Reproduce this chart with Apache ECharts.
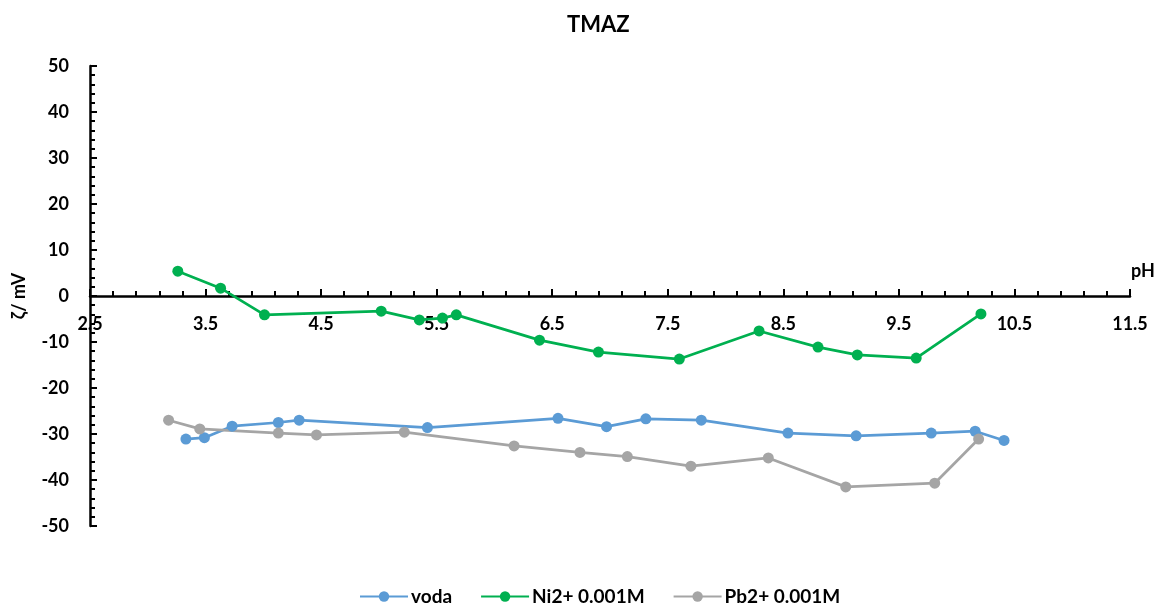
<!DOCTYPE html>
<html>
<head>
<meta charset="utf-8">
<script src="https://cdn.jsdelivr.net/npm/echarts@6/dist/echarts.min.js"></script>
<style>html,body{margin:0;padding:0;background:#fff;}#c{width:1165px;height:605px;}</style>
</head>
<body>
<div id="c"></div>
<script>
// x-axis tick labels (pH)
var xTicks = [2.5, 3.5, 4.5, 5.5, 6.5, 7.5, 8.5, 9.5, 10.5, 11.5];
var yMin = -50, yMax = 50, yStep = 10;
var seriesNames = ['voda', 'Ni2+ 0.001M', 'Pb2+ 0.001M'];

var vodaPH   = [3.33, 3.49, 3.73, 4.13, 4.31, 5.42, 6.55, 6.97, 7.31, 7.79, 8.54, 9.13, 9.78, 10.16, 10.41];
var vodaZeta = [-31.1, -30.8, -28.3, -27.5, -27.0, -28.6, -26.6, -28.4, -26.7, -27.0, -29.8, -30.4, -29.8, -29.4, -31.4];

var niPH   = [3.26, 3.63, 4.01, 5.02, 5.35, 5.55, 5.67, 6.39, 6.90, 7.60, 8.29, 8.80, 9.14, 9.65, 10.21];
var niZeta = [5.4, 1.7, -4.1, -3.3, -5.2, -4.8, -4.1, -9.6, -12.2, -13.7, -7.6, -11.1, -12.8, -13.5, -3.9];

var pbPH   = [3.18, 3.45, 4.13, 4.46, 5.22, 6.17, 6.74, 7.15, 7.70, 8.37, 9.04, 9.81, 10.19];
var pbZeta = [-27.0, -28.9, -29.8, -30.2, -29.6, -32.6, -34.0, -34.9, -37.0, -35.2, -41.5, -40.7, -31.1];

var xOffset = xTicks[0]; // axis runs 0..9 internally so ticks start at 2.5
function pairs(xs, ys) { return xs.map(function (x, i) { return [x - xOffset, ys[i]]; }); }

var colors = ['#5B9BD5', '#00B050', '#A5A5A5'];
var font = 'Lato, "Open Sans", sans-serif';

var W = 1165, H = 605;
var gridTop = 66, gridBottom = 79;
var plotH = H - gridTop - gridBottom;
// x axis crosses the y axis at 0: move it up from the bottom of the grid
var zeroOffset = -plotH * (0 - yMin) / (yMax - yMin);

function mk(name, xs, ys, color) {
  return {
    name: name, type: 'line', data: pairs(xs, ys),
    symbol: 'circle', symbolSize: 11, showSymbol: true,
    lineStyle: { color: color, width: 2.75 },
    itemStyle: { color: color },
    z: 3
  };
}

var chart = echarts.init(document.getElementById('c'));
chart.setOption({
  animation: false,
  textStyle: { fontFamily: font },
  title: {
    text: 'TMAZ', left: 562, top: 9,
    textStyle: { fontSize: 22, fontWeight: 'bold', color: '#000', fontFamily: font }
  },
  legend: {
    top: 582, left: 354, itemGap: 28, itemWidth: 48, itemHeight: 13,
    data: seriesNames,
    textStyle: { fontSize: 19, fontWeight: 'bold', color: '#000', fontFamily: font, padding: [0, 0, 0, -2] }
  },
  grid: { left: 90, right: 35, top: gridTop, bottom: gridBottom, containLabel: false },
  xAxis: {
    type: 'value', min: 0, max: xTicks[xTicks.length - 1] - xOffset, interval: 1,
    position: 'bottom', offset: zeroOffset,
    name: 'pH', nameLocation: 'end', nameGap: 1,
    nameTextStyle: { fontSize: 18, fontWeight: 'bold', color: '#000', verticalAlign: 'bottom', padding: [0, 0, 16, 0], fontFamily: font },
    axisLine: { onZero: false, lineStyle: { color: '#000', width: 2.5 } },
    axisTick: { show: true, inside: true, length: 7, lineStyle: { color: '#000', width: 2 } },
    minorTick: { show: true, splitNumber: 5, length: 5, lineStyle: { color: '#000', width: 2 } },
    axisLabel: {
      margin: 19, fontSize: 18, fontWeight: 'bold', color: '#000', fontFamily: font,
      formatter: function (v) { return String(Math.round((v + xOffset) * 10) / 10); }
    },
    splitLine: { show: false }
  },
  yAxis: {
    type: 'value', min: yMin, max: yMax, interval: yStep,
    name: 'ζ/ mV', nameLocation: 'middle', nameGap: 62, nameRotate: 90,
    nameTextStyle: { fontSize: 18, fontWeight: 'bold', color: '#000', fontFamily: font },
    axisLine: { show: true, onZero: false, lineStyle: { color: '#000', width: 2.5 } },
    axisTick: { show: true, inside: true, length: 7, lineStyle: { color: '#000', width: 2 } },
    minorTick: { show: true, splitNumber: 5, length: 5, lineStyle: { color: '#000', width: 2 } },
    axisLabel: { margin: 21, fontSize: 18, fontWeight: 'bold', color: '#000', fontFamily: font },
    splitLine: { show: false }
  },
  series: [
    mk(seriesNames[0], vodaPH, vodaZeta, colors[0]),
    mk(seriesNames[1], niPH, niZeta, colors[1]),
    mk(seriesNames[2], pbPH, pbZeta, colors[2])
  ]
});
</script>
</body>
</html>
